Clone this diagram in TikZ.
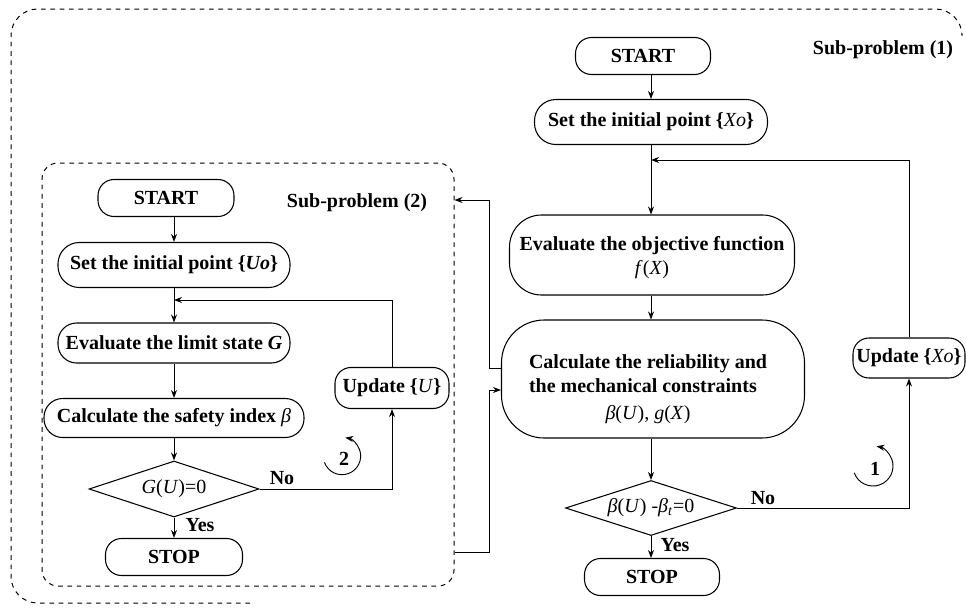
\documentclass[tikz,border=0pt]{standalone}
\usepackage{fontspec}
\setmainfont{Liberation Serif}
\usetikzlibrary{shapes.geometric,arrows.meta}
\tikzset{
  fs/.style={font=\fontsize{15}{18}\selectfont\bfseries},
  pill/.style={draw, line width=0.8pt, rounded corners=#1, align=center, inner sep=1pt, fs},
  dia/.style={draw, line width=0.8pt, diamond, aspect=3, inner sep=0pt, font=\fontsize{15}{18}\selectfont},
  arr/.style={-{Stealth[length=6pt,width=4.5pt]}, line width=0.7pt},
  dsh/.style={line width=0.75pt, dash pattern=on 3.5pt off 3.5pt},
}
\begin{document}
\begin{tikzpicture}[x=0.75pt,y=-0.75pt]
\useasboundingbox (0,0) rectangle (966,607);
% outer dashed frame (partly visible)
\draw[dsh, rounded corners=20pt] (250,603) -- (11,603) -- (11,9) -- (962,9) -- (962,30);
% inner dashed frame
\node[draw, dsh, rounded corners=12pt, minimum width=309pt, minimum height=317.25pt, inner sep=0pt] (sub2) at (248,374.5) {};
\node[fs] (sp1) at (883,50) {Sub-problem (1)};
\node[fs] (sp2) at (357,203) {Sub-problem (2)};
% left flow
\node[pill=12pt, minimum width=102pt, minimum height=27.75pt] (startL) at (166,198) {START};
\node[pill=16pt, minimum width=174pt, minimum height=33.75pt] (setU) at (174,265) {Set the initial point \{\textit{Uo}\}};
\node[pill=14pt, minimum width=174pt, minimum height=30pt] (evalG) at (174,343) {Evaluate the limit state \textit{G}};
\node[pill=14pt, minimum width=195pt, minimum height=29.25pt] (calcB) at (174,418) {Calculate the safety index \textnormal{\textit{β}}};
\node[dia, minimum width=127.5pt, minimum height=42pt] (decG) at (174,489) {\textit{G}(\textit{U})=0};
\node[pill=12pt, minimum width=102.75pt, minimum height=27.75pt] (stopL) at (174,557) {STOP};
\node[pill=12pt, minimum width=85.5pt, minimum height=30.75pt] (updU) at (392,388) {Update \{\textnormal{\textit{U}}\}};
\node[fs] (noL) at (282,478) {No};
\node[fs] (yesL) at (200,525) {Yes};
\coordinate (jL) at (174,300);
\draw[arr] (startL.south -| jL) -- (setU.north -| jL);
\draw[arr] (setU.south -| jL) -- (evalG.north -| jL);
\draw[arr] (updU.north) |- (jL);
\draw[arr] (evalG.south -| jL) -- (calcB.north -| jL);
\draw[arr] (calcB.south -| jL) -- (decG.north);
\draw[arr] (decG.south) -- (stopL.north);
\draw[arr] (decG.east) -| (updU.south);
\coordinate (lc2) at (342,456);
\node[fs] (n2) at (344,459) {2};
\draw[arr] ([shift={(200:14pt)}]lc2) arc[start angle=200, end angle=440, radius=14pt];
% right flow
\node[pill=12pt, minimum width=101.25pt, minimum height=27.75pt] (startR) at (643,56) {START};
\node[pill=16pt, minimum width=174.75pt, minimum height=33.75pt] (setX) at (651,122) {Set the initial point \{\textnormal{\textit{Xo}}\}};
\node[pill=24pt, minimum width=213.75pt, minimum height=60pt] (evalF) at (652,255) {};
\node[fs, align=center] (evalFt) at (652,258) {Evaluate the objective function\\ \textnormal{\textit{f}(\textit{X})}};
\node[pill=32pt, minimum width=227.25pt, minimum height=88.5pt] (calcR) at (653,379) {};
\node[fs, align=center] (calcRt) at (648,388) {\begin{tabular}{@{}l@{}}Calculate the reliability and\\the mechanical constraints\end{tabular}\\[3pt] \textnormal{\textit{β}(\textit{U}), \textit{g}(\textit{X})}};
\node[dia, minimum width=128.25pt, minimum height=41.25pt] (decB) at (651,508) {\textit{β}(\textit{U}) -\textit{β}\textsubscript{\textit{t}}=0};
\node[pill=12pt, minimum width=101.25pt, minimum height=27.75pt] (stopR) at (652,577) {STOP};
\node[pill=12pt, minimum width=84pt, minimum height=30pt, inner sep=0pt] (updX) at (909,358) {Update \{\textnormal{\textit{Xo}}\}};
\node[fs] (noR) at (763,498) {No};
\node[fs] (yesR) at (675,545) {Yes};
\coordinate (jR) at (651,160);
\draw[arr] (startR.south -| jR) -- (setX.north -| jR);
\draw[arr] (setX.south -| jR) -- (evalF.north -| jR);
\draw[arr] (updX.north) |- (jR);
\draw[arr] (evalF.south -| jR) -- (calcR.north -| jR);
\draw[arr] (calcR.south -| jR) -- (decB.north);
\draw[arr] (decB.south) -- (stopR.north -| decB.south);
\draw[arr] (decB.east) -| (updX.south);
\coordinate (lc1) at (873,466);
\node[fs] (n1) at (875,469) {1};
\draw[arr] ([shift={(200:15pt)}]lc1) arc[start angle=200, end angle=440, radius=15pt];
% links between the two sub-problems
\coordinate (c0) at (489,200);
\coordinate (c1) at (489,368);
\coordinate (c2) at (489,390);
\coordinate (c3) at (489,552);
\draw[arr] (calcR.west |- c1) -- (c1) -- (c0) -- (sub2.east |- c0);
\draw[arr] (sub2.east |- c3) -- (c3) -- (c2) -- (calcR.west |- c2);
\end{tikzpicture}
\end{document}
